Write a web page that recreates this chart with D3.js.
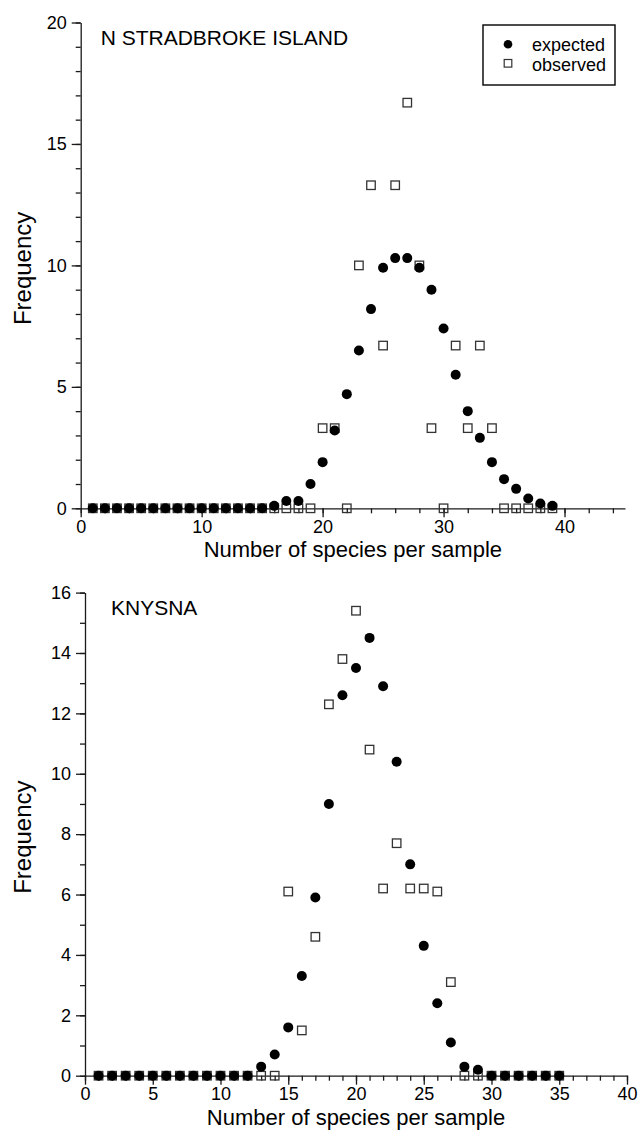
<!DOCTYPE html>
<html>
<head>
<meta charset="utf-8">
<script src="https://cdn.jsdelivr.net/npm/d3@7"></script>
<style>
  html, body { margin: 0; padding: 0; background: #fff; }
  svg { display: block; font-family: "Liberation Sans", Arial, sans-serif; }
</style>
</head>
<body>
<svg id="canvas" width="638" height="1130"></svg>
<script>
// species per sample (x) and frequencies

let stradSpecies = [1, 2, 3, 4, 5, 6, 7, 8, 9, 10, 11, 12, 13, 14, 15, 16, 17, 18, 19, 20,
                    21, 22, 23, 24, 25, 26, 27, 28, 29, 30, 31, 32, 33, 34, 35, 36, 37, 38, 39]
let stradExpected = [0, 0, 0, 0, 0, 0, 0, 0, 0, 0, 0, 0, 0, 0, 0, 0.1, 0.3, 0.3, 1.0, 1.9,
                     3.2, 4.7, 6.5, 8.2, 9.9, 10.3, 10.3, 9.9, 9.0, 7.4, 5.5, 4.0, 2.9, 1.9, 1.2, 0.8, 0.4, 0.2, 0.1]
let stradObserved = [0, 0, 0, 0, 0, 0, 0, 0, 0, 0, 0, 0, 0, 0, 0, 0, 0, 0, 0, 3.3,
                     3.3, 0, 10.0, 13.3, 6.7, 13.3, 16.7, 10.0, 3.3, 0, 6.7, 3.3, 6.7, 3.3, 0, 0, 0, 0, 0]

let knysnaSpecies = [1, 2, 3, 4, 5, 6, 7, 8, 9, 10, 11, 12, 13, 14, 15, 16, 17, 18,
                     19, 20, 21, 22, 23, 24, 25, 26, 27, 28, 29, 30, 31, 32, 33, 34, 35]
let knysnaExpected = [0, 0, 0, 0, 0, 0, 0, 0, 0, 0, 0, 0, 0.3, 0.7, 1.6, 3.3, 5.9, 9.0,
                      12.6, 13.5, 14.5, 12.9, 10.4, 7.0, 4.3, 2.4, 1.1, 0.3, 0.2, 0, 0, 0, 0, 0, 0]
let knysnaObserved = [0, 0, 0, 0, 0, 0, 0, 0, 0, 0, 0, 0, 0, 0, 6.1, 1.5, 4.6, 12.3,
                      13.8, 15.4, 10.8, 6.2, 7.7, 6.2, 6.2, 6.1, 3.1, 0, 0, 0, 0, 0, 0, 0, 0]

// tick labels
let stradXTicks = [0, 10, 20, 30, 40]
let stradYTicks = [0, 5, 10, 15, 20]
let knysnaXTicks = [0, 5, 10, 15, 20, 25, 30, 35, 40]
let knysnaYTicks = [0, 2, 4, 6, 8, 10, 12, 14, 16]

let legendLabels = ['expected', 'observed']

let canvas = d3.select('#canvas')

let drawPanel = (p) => {

    let xScale = d3.scaleLinear().domain([0, p.xMax]).range([p.left, p.right])
    let yScale = d3.scaleLinear().domain([0, p.yMax]).range([p.bottom, p.top])

    // minor ticks first, then the labelled ones over them
    canvas.append('g')
        .attr('transform', `translate(0, ${p.bottom})`)
        .call(d3.axisBottom(xScale).tickValues(p.xMinor).tickFormat('').tickSize(5).tickSizeOuter(0))
        .call(g => g.select('.domain').remove())

    canvas.append('g')
        .attr('transform', `translate(${p.left}, 0)`)
        .call(d3.axisLeft(yScale).tickValues(p.yMinor).tickFormat('').tickSize(5).tickSizeOuter(0))
        .call(g => g.select('.domain').remove())

    let xAxis = canvas.append('g')
        .attr('transform', `translate(0, ${p.bottom})`)
        .call(d3.axisBottom(xScale).tickValues(p.xTicks).tickSize(9).tickSizeOuter(0).tickPadding(3))

    let yAxis = canvas.append('g')
        .attr('transform', `translate(${p.left}, 0)`)
        .call(d3.axisLeft(yScale).tickValues(p.yTicks).tickSize(9).tickSizeOuter(0).tickPadding(5))

    canvas.selectAll('.domain, .tick line')
        .attr('stroke', '#1a1a1a')
        .attr('stroke-width', 1.3)

    xAxis.selectAll('text').attr('font-size', 18).attr('fill', '#000')
    yAxis.selectAll('text').attr('font-size', 18).attr('fill', '#000')

    // observed: open squares, drawn under the circles
    let side = 8.5
    canvas.append('g')
        .selectAll('rect')
        .data(p.species.map((s, i) => ({ s: s, v: p.observed[i] })))
        .enter()
        .append('rect')
        .attr('x', d => xScale(d.s) - side / 2)
        .attr('y', d => yScale(d.v) - side / 2)
        .attr('width', side)
        .attr('height', side)
        .attr('fill', 'none')
        .attr('stroke', '#333')
        .attr('stroke-width', 1.3)

    // expected: filled circles
    canvas.append('g')
        .selectAll('circle')
        .data(p.species.map((s, i) => ({ s: s, v: p.expected[i] })))
        .enter()
        .append('circle')
        .attr('cx', d => xScale(d.s))
        .attr('cy', d => yScale(d.v))
        .attr('r', 5)
        .attr('fill', '#000')

    canvas.append('text')
        .attr('x', p.left + p.titleDx)
        .attr('y', p.titleY)
        .attr('font-size', 21)
        .text(p.title)

    canvas.append('text')
        .attr('x', (p.left + p.right) / 2)
        .attr('y', p.bottom + 49)
        .attr('text-anchor', 'middle')
        .attr('font-size', 22)
        .text('Number of species per sample')

    canvas.append('text')
        .attr('transform', `translate(31, ${(p.top + p.bottom) / 2 + 3}) rotate(-90)`)
        .attr('text-anchor', 'middle')
        .attr('font-size', 24)
        .text('Frequency')
}

drawPanel({
    species: stradSpecies, expected: stradExpected, observed: stradObserved,
    xMax: 45, yMax: 20,
    left: 80.7, right: 625, top: 22.5, bottom: 508.3,
    xTicks: stradXTicks, xMinor: d3.range(0, 46, 2),
    yTicks: stradYTicks, yMinor: d3.range(0, 21, 1),
    title: 'N STRADBROKE ISLAND', titleDx: 20, titleY: 44.5
})

drawPanel({
    species: knysnaSpecies, expected: knysnaExpected, observed: knysnaObserved,
    xMax: 40, yMax: 16,
    left: 85, right: 627, top: 592.6, bottom: 1075.7,
    xTicks: knysnaXTicks, xMinor: d3.range(0, 41, 1),
    yTicks: knysnaYTicks, yMinor: d3.range(0, 17, 1),
    title: 'KNYSNA', titleDx: 26, titleY: 614.5
})

// legend (top panel)
let legend = canvas.append('g')

legend.append('rect')
    .attr('x', 483).attr('y', 25)
    .attr('width', 132).attr('height', 60)
    .attr('fill', '#fff')
    .attr('stroke', '#000')
    .attr('stroke-width', 1.4)

legend.append('circle')
    .attr('cx', 508).attr('cy', 44.3).attr('r', 4.3)
    .attr('fill', '#000')

legend.append('rect')
    .attr('x', 504.2).attr('y', 59.5)
    .attr('width', 7.6).attr('height', 7.6)
    .attr('fill', 'none')
    .attr('stroke', '#333')
    .attr('stroke-width', 1.2)

legend.selectAll('text')
    .data(legendLabels)
    .enter()
    .append('text')
    .attr('x', 532)
    .attr('y', (d, i) => 50.5 + i * 20)
    .attr('font-size', 18)
    .text(d => d)
</script>
</body>
</html>
